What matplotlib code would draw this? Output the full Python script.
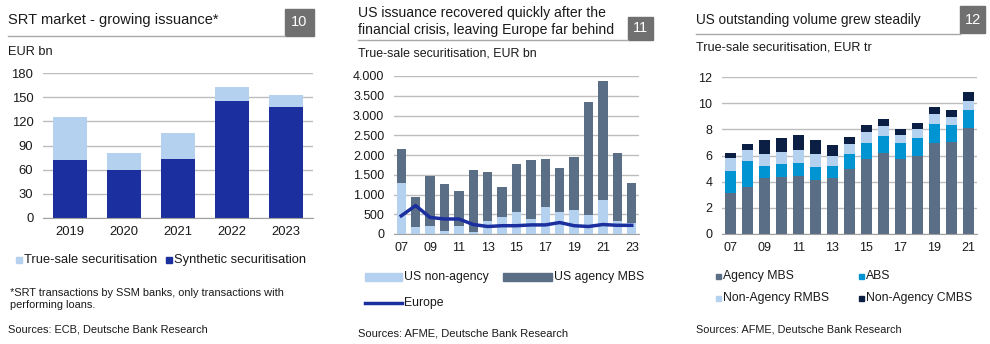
import matplotlib.pyplot as plt
from matplotlib.patches import Rectangle
from matplotlib.lines import Line2D
import numpy as np

plt.rcParams["font.family"] = ["Liberation Sans", "DejaVu Sans"]

W, H = 990, 344

# chart 10: SRT issuance
srt_years = ["2019", "2020", "2021", "2022", "2023"]
srt_synthetic = [72, 59, 73, 145, 138]
srt_true_sale = [53, 22, 33, 18, 15]

# chart 11: US vs Europe issuance
iss_years = ["07", "08", "09", "10", "11", "12", "13", "14", "15",
             "16", "17", "18", "19", "20", "21", "22", "23"]
us_non_agency = [1300, 170, 210, 70, 190, 40, 340, 440, 550,
                 390, 690, 550, 620, 490, 850, 320, 280]
us_agency = [850, 770, 1250, 1190, 890, 1580, 1240, 750, 1210,
             1480, 1200, 1120, 1340, 2850, 3030, 1740, 1000]
europe = [460, 720, 420, 380, 380, 240, 190, 210, 210,
          230, 230, 290, 210, 190, 240, 220, 220]

# chart 12: US outstanding volume
out_years = ["07", "08", "09", "10", "11", "12", "13", "14", "15",
             "16", "17", "18", "19", "20", "21"]
agency_mbs = [3.1, 3.6, 4.3, 4.35, 4.4, 4.15, 4.3, 4.95, 5.7,
              6.2, 5.75, 6.0, 6.95, 7.05, 8.1]
abs_ = [1.7, 1.95, 0.9, 1.0, 1.0, 1.0, 0.9, 1.15, 1.25,
        1.3, 1.2, 1.35, 1.45, 1.3, 1.4]
non_agency_rmbs = [1.0, 0.85, 0.95, 0.95, 1.0, 1.0, 0.75, 0.75, 0.85,
                   0.75, 0.65, 0.65, 0.75, 0.6, 0.7]
non_agency_cmbs = [0.4, 0.5, 1.0, 1.05, 1.15, 1.05, 0.85, 0.55, 0.55,
                   0.55, 0.4, 0.5, 0.55, 0.55, 0.65]

LIGHT = "#b4d1f0"
NAVY = "#1b309e"
SLATE = "#5a6e85"
CYAN = "#0094d2"
DARK = "#0b1f45"
GRID = "#bdbdbd"
BOXGREY = "#707070"
TXT = "#1a1a1a"

fig = plt.figure(figsize=(W / 100, H / 100), dpi=100)


def fx(x):
    return x / W


def fy(y):
    return 1 - y / H


def add_axes(x0, x1, y0, y1, tick_size):
    ax = fig.add_axes([fx(x0), fy(y1), fx(x1 - x0), (y1 - y0) / H])
    for s in ["left", "right", "top"]:
        ax.spines[s].set_visible(False)
    ax.spines["bottom"].set_color("#a0a0a0")
    ax.yaxis.grid(True, color=GRID, linewidth=1)
    ax.set_axisbelow(True)
    ax.tick_params(length=0, labelsize=tick_size, colors=TXT)
    ax.tick_params(axis="y", pad=7)
    ax.tick_params(axis="x", pad=6)
    return ax


def header(x0, y_line, lines, num, box, size):
    bx0, by0, bx1, by1 = box
    for t, y in lines:
        fig.text(fx(x0), fy(y), t, fontsize=size, va="center", ha="left",
                 color=TXT)
    fig.add_artist(Line2D([fx(x0), fx(bx0)], [fy(y_line), fy(y_line)],
                          color="#a8a8a8", lw=1))
    fig.add_artist(Rectangle((fx(bx0), fy(by1)), fx(bx1 - bx0), (by1 - by0) / H,
                             color=BOXGREY, transform=fig.transFigure))
    fig.text(fx((bx0 + bx1) / 2), fy((by0 + by1) / 2), num, color="white",
             fontsize=10.5, ha="center", va="center")


def key(x, y, color, label, size, w=6, h=6, kind="box"):
    if kind == "line":
        fig.add_artist(Line2D([fx(x), fx(x + w)], [fy(y), fy(y)], color=color,
                              lw=2.5))
    else:
        fig.add_artist(Rectangle((fx(x), fy(y + h / 2)), fx(w), h / H,
                                 color=color, transform=fig.transFigure))
    fig.text(fx(x + w + 2), fy(y), label, fontsize=size, va="center",
             ha="left", color=TXT)


def small(x, y, t, size=7.9):
    fig.text(fx(x), fy(y), t, fontsize=size, va="center", ha="left", color=TXT)


# ---- chart 10
header(8, 36, [("SRT market - growing issuance*", 20)], "10", (285, 9, 314, 36), 10.5)
small(8, 52, "EUR bn", 9.2)
ax1 = add_axes(43, 313, 73, 218, 9.4)
x = np.arange(len(srt_years))
ax1.bar(x, srt_synthetic, 0.63, color=NAVY)
ax1.bar(x, srt_true_sale, 0.63, bottom=srt_synthetic, color=LIGHT)
ax1.set_xlim(-0.5, len(srt_years) - 0.5)
ax1.set_ylim(0, 180)
ax1.set_yticks(range(0, 181, 30))
ax1.set_xticks(x, srt_years)
key(16, 260, LIGHT, "True-sale securitisation", 9.3)
key(166, 260, NAVY, "Synthetic securitisation", 9.3)
small(10, 293, "*SRT transactions by SSM banks, only transactions with")
small(10, 305, "performing loans.")
small(8, 329, "Sources: ECB, Deutsche Bank Research")

# ---- chart 11
header(358, 40, [("US issuance recovered quickly after the", 13),
                 ("financial crisis, leaving Europe far behind", 30)],
       "11", (628, 17, 653, 40), 10.1)
small(358, 53, "True-sale securitisation, EUR bn", 8.9)
ax2 = add_axes(394, 639, 76, 234, 9)
x = np.arange(len(iss_years))
ax2.bar(x, us_non_agency, 0.65, color=LIGHT)
ax2.bar(x, us_agency, 0.65, bottom=us_non_agency, color=SLATE)
ax2.plot(x, europe, color=NAVY, lw=2.5)
ax2.set_xlim(-0.5, len(iss_years) - 0.5)
ax2.set_ylim(0, 4000)
ax2.set_yticks(range(0, 4001, 500))
ax2.set_yticklabels([f"{v:,}".replace(",", ".") for v in range(0, 4001, 500)])
ax2.set_xticks(x[::2], iss_years[::2])
key(365, 277, LIGHT, "US non-agency", 8.8, w=37, h=8)
key(503, 277, SLATE, "US agency MBS", 8.8, w=49, h=8)
key(365, 303, NAVY, "Europe", 8.8, w=37, kind="line")
small(358, 333, "Sources: AFME, Deutsche Bank Research", 8)

# ---- chart 12
header(696, 34, [("US outstanding volume grew steadily", 20)], "12", (960, 6, 985, 33), 9.85)
small(696, 48, "True-sale securitisation, EUR tr", 9.1)
ax3 = add_axes(722, 977, 77, 234, 9)
x = np.arange(len(out_years))
b1 = np.array(agency_mbs)
b2 = b1 + np.array(abs_)
b3 = b2 + np.array(non_agency_rmbs)
ax3.bar(x, agency_mbs, 0.65, color=SLATE)
ax3.bar(x, abs_, 0.65, bottom=b1, color=CYAN)
ax3.bar(x, non_agency_rmbs, 0.65, bottom=b2, color=LIGHT)
ax3.bar(x, non_agency_cmbs, 0.65, bottom=b3, color=DARK)
ax3.set_xlim(-0.5, len(out_years) - 0.5)
ax3.set_ylim(0, 12)
ax3.set_yticks(range(0, 13, 2))
ax3.set_xticks(x[::2], out_years[::2])
key(716, 276, SLATE, "Agency MBS", 8.8, w=5, h=5)
key(859, 276, CYAN, "ABS", 8.8, w=5, h=5)
key(716, 298, LIGHT, "Non-Agency RMBS", 8.8, w=5, h=5)
key(859, 298, DARK, "Non-Agency CMBS", 8.8, w=5, h=5)
small(696, 330, "Sources: AFME, Deutsche Bank Research", 7.8)

fig.savefig("out.png", dpi=100)
